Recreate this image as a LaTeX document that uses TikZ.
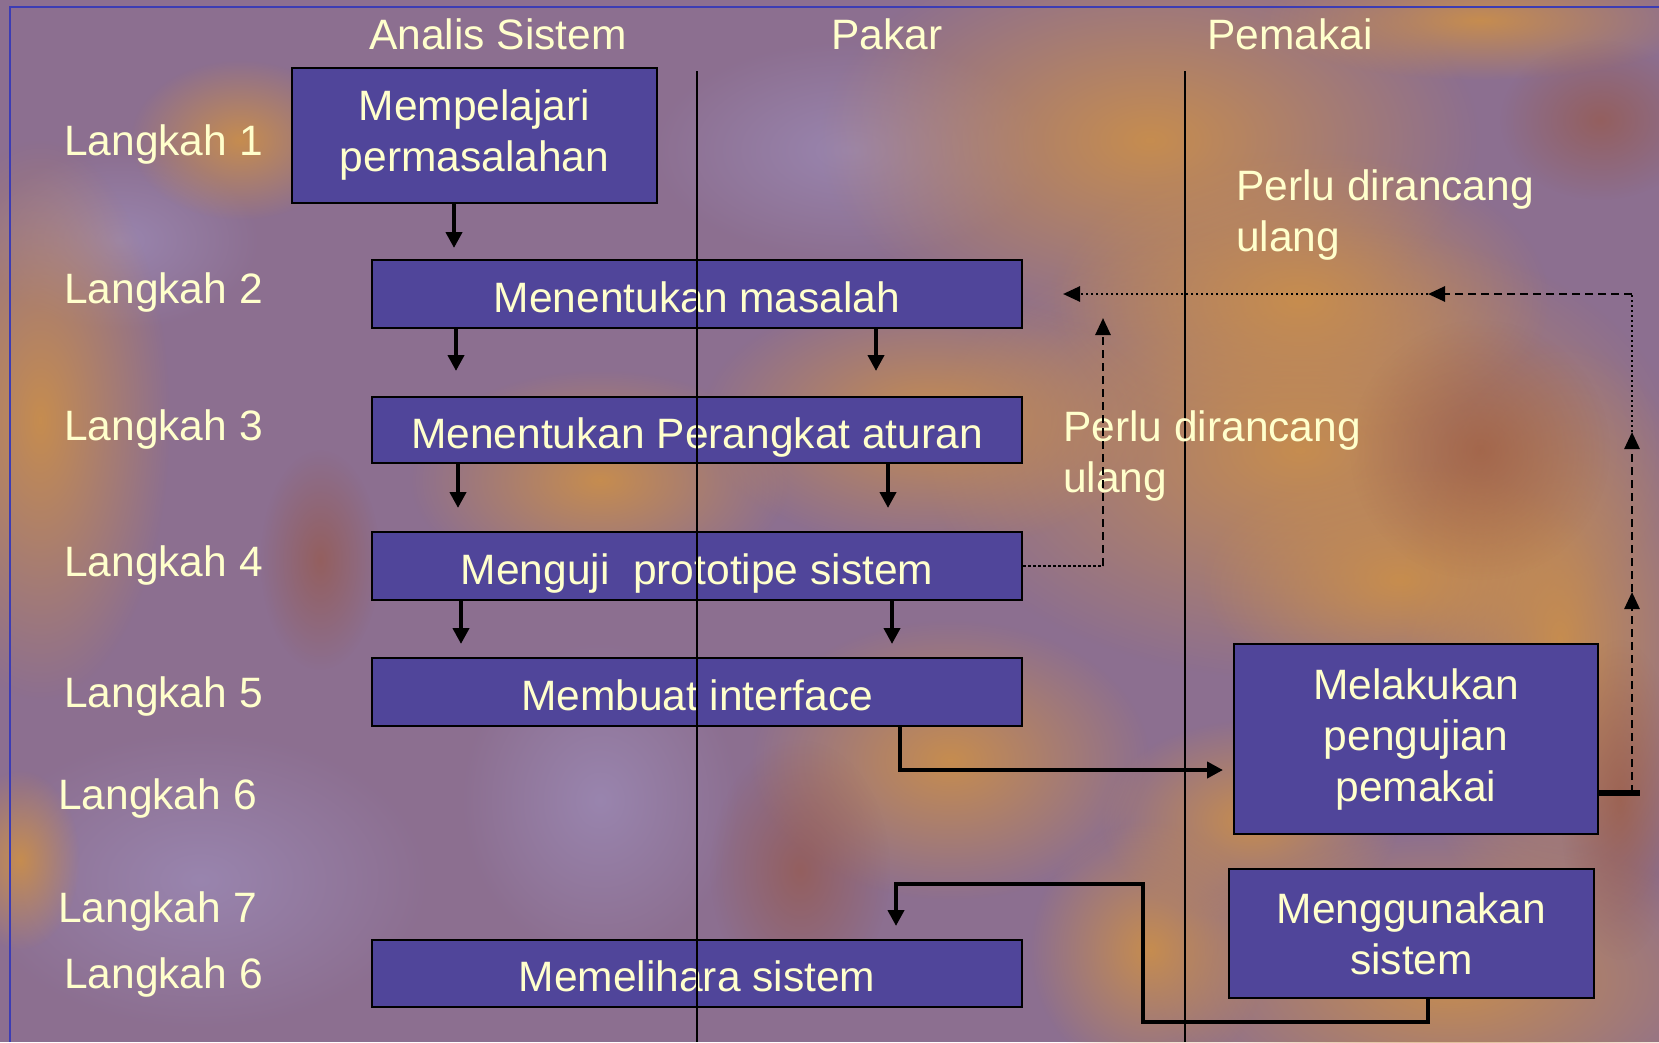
\documentclass[tikz,border=0pt]{standalone}
\usepackage{fontspec}
\setmainfont{Liberation Sans}
\usetikzlibrary{arrows.meta,fadings}
\definecolor{txt}{HTML}{FFFFCC}
\definecolor{boxc}{HTML}{50459A}
\definecolor{bgpurple}{HTML}{8C6F90}
\definecolor{bgorange}{HTML}{C98E4C}
\definecolor{bgbrown}{HTML}{9A5236}
\definecolor{bglight}{HTML}{9A86B0}
\definecolor{framec}{HTML}{3C3CB4}
\tikzfading[name=softblob, inner color=transparent!0, outer color=transparent!100]
\tikzset{
  lab/.style={text=txt, font=\fontsize{42.5}{51}\selectfont, inner sep=0pt},
  box/.style={draw=black, line width=2pt, fill=boxc, text=txt,
    font=\fontsize{42.5}{51}\selectfont, align=center, inner sep=0pt},
  one/.style={text height=36pt, text depth=0pt},
  arr/.style={line width=4pt, -{Triangle[length=16pt,width=16pt]}},
  dsh/.style={line width=2.7pt, dash pattern=on 8pt off 5pt},
  dot/.style={line width=2.7pt, dash pattern=on 2.5pt off 2.5pt},
  tip/.style={-{Triangle[length=17pt,width=15pt]}},
  lane/.style={line width=1.6pt, draw=black},
  blob/.style={path fading=softblob, fill opacity=0.95},
  sblob/.style={path fading=softblob, fill opacity=0.55}
}
\begin{document}
\begin{tikzpicture}[x=1pt,y=-1pt]
\useasboundingbox (0,0) rectangle (1659,1042);
% background
\fill[bgpurple] (0,0) rectangle (1659,1042);
\fill[bglight, blob] (850,150) ellipse (200 and 110);
\fill[bglight, blob] (200,880) ellipse (230 and 150);
\fill[bglight, blob] (600,800) ellipse (140 and 160);
\fill[bglight, blob] (120,240) ellipse (140 and 90);
\fill[bgorange, blob] (1150,140) ellipse (330 and 200);
\fill[bgorange, blob] (1300,450) ellipse (380 and 230);
\fill[bgorange, blob] (1300,300) ellipse (250 and 150);
\fill[bgorange, blob] (1400,580) ellipse (200 and 120);
\fill[bgorange, blob] (1250,820) ellipse (150 and 100);
\fill[bgorange, blob] (1560,640) ellipse (160 and 300);
\fill[bgorange, blob] (1450,980) ellipse (300 and 150);
\fill[bgorange, blob] (930,420) ellipse (230 and 130);
\fill[bgorange, blob] (950,760) ellipse (200 and 140);
\fill[bgorange, blob] (40,420) ellipse (130 and 280);
\fill[bgorange, blob] (240,140) ellipse (110 and 80);
\fill[bgorange, blob] (600,480) ellipse (190 and 110);
\fill[bgorange, blob] (1480,20) ellipse (220 and 60);
\fill[bgorange, blob] (1150,950) ellipse (120 and 130);
\fill[bgorange, blob] (20,860) ellipse (60 and 90);
\fill[bgbrown, sblob] (1480,450) ellipse (130 and 130);
\fill[bgbrown, sblob] (320,560) ellipse (60 and 110);
\fill[bgbrown, sblob] (800,870) ellipse (90 and 130);
\fill[bgbrown, sblob] (1600,120) ellipse (100 and 80);
\fill[bgbrown, sblob] (1620,800) ellipse (60 and 160);
% frame
\coordinate (fr1) at (10,1042);
\coordinate (fr2) at (10,6.5);
\coordinate (fr3) at (1659,6.5);
\draw[framec, line width=2pt] (fr1) -- (fr2) -- (fr3);
% headers
\node[lab] (h1) at (498,34) {Analis Sistem};
\node[lab] (h2) at (887,34) {Pakar};
\node[lab] (h3) at (1290,34) {Pemakai};
% step labels
\node[lab, anchor=west] (l1) at (64,145) {Langkah 1};
\node[lab, anchor=west] (l2) at (64,293) {Langkah 2};
\node[lab, anchor=west] (l3) at (64,430) {Langkah 3};
\node[lab, anchor=west] (l4) at (64,566) {Langkah 4};
\node[lab, anchor=west] (l5) at (64,696) {Langkah 5};
\node[lab, anchor=west] (l6) at (58,798) {Langkah 6};
\node[lab, anchor=west] (l7) at (58,911) {Langkah 7};
\node[lab, anchor=west] (l8) at (64,977) {Langkah 6};
% boxes
\node[box, minimum width=365pt, minimum height=135pt] (b1) at (474.5,135.5) {Mempelajari\\permasalahan};
\node[box, one, minimum width=650pt, minimum height=68pt] (b2) at (697,294) {Menentukan masalah};
\node[box, one, minimum width=650pt, minimum height=66pt] (b3) at (697,430) {Menentukan Perangkat aturan};
\node[box, one, minimum width=650pt, minimum height=68pt] (b4) at (697,566) {Menguji~ prototipe sistem};
\node[box, one, minimum width=650pt, minimum height=68pt] (b5) at (697,692) {Membuat interface};
\node[box, one, minimum width=650pt, minimum height=67pt] (b6) at (697,973.5) {Memelihara sistem};
\node[box, minimum width=364pt, minimum height=190pt] (bu) at (1416,739) {Melakukan\\pengujian\\pemakai};
\node[box, minimum width=365pt, minimum height=129pt] (bg) at (1411.5,933.5) {Menggunakan\\sistem};
% lanes
\coordinate (la1) at (697,71);
\coordinate (la2) at (697,1042);
\coordinate (lb1) at (1185,71);
\coordinate (lb2) at (1185,1042);
\draw[lane] (la1) -- (la2);
\draw[lane] (lb1) -- (lb2);
% feedback labels
\node[lab, anchor=west, align=left] (p1) at (1236,215) {Perlu dirancang\\ulang};
\node[lab, anchor=west, align=left] (p2) at (1063,456) {Perlu dirancang\\ulang};
% down arrows
\coordinate (a1) at (454,0);
\coordinate (a2) at (456,0);
\coordinate (a3) at (876,0);
\coordinate (a4) at (458,0);
\coordinate (a5) at (888,0);
\coordinate (a6) at (461,0);
\coordinate (a7) at (892,0);
\draw[arr, shorten >=11pt] (b1.south -| a1) -- (b2.north -| a1);
\draw[arr, shorten >=25pt] (b2.south -| a2) -- (b3.north -| a2);
\draw[arr, shorten >=25pt] (b2.south -| a3) -- (b3.north -| a3);
\draw[arr, shorten >=23pt] (b3.south -| a4) -- (b4.north -| a4);
\draw[arr, shorten >=23pt] (b3.south -| a5) -- (b4.north -| a5);
\draw[arr, shorten >=13pt] (b4.south -| a6) -- (b5.north -| a6);
\draw[arr, shorten >=13pt] (b4.south -| a7) -- (b5.north -| a7);
% interface -> pengujian
\coordinate (c1) at (900,770);
\draw[arr, shorten >=10pt] (b5.south -| c1) |- (bu.west |- c1);
% menggunakan -> memelihara
\coordinate (d1) at (1428,1022);
\coordinate (d2) at (1143,884);
\coordinate (d3) at (896,927);
\draw[arr, shorten >=13pt] (bg.south -| d1) -- (d1) -- (d1 -| d2) -- (d2) -- (d2 -| d3) -- (b6.north -| d3);
% feedback from prototype test
\coordinate (e1) at (1103,566);
\coordinate (e2) at (1103,318);
\draw[dot] (b4.east) -- (e1);
\draw[dsh, tip] (e1) -- (e2);
% feedback from user test
\coordinate (f0) at (1640,793);
\coordinate (f1) at (1632,793);
\coordinate (f2) at (1632,592);
\coordinate (f3) at (1632,432);
\coordinate (f4) at (1632,294);
\coordinate (f5) at (1428,294);
\coordinate (f6) at (1063,294);
\draw[line width=6pt] (bu.east |- f0) -- (f0);
\draw[dsh, tip] (f1) -- (f2);
\draw[dsh, tip] (f2) -- (f3);
\draw[dot] (f3) -- (f4);
\draw[dsh, tip] (f4) -- (f5);
\draw[dot, tip] (f5) -- (f6);
\end{tikzpicture}
\end{document}
